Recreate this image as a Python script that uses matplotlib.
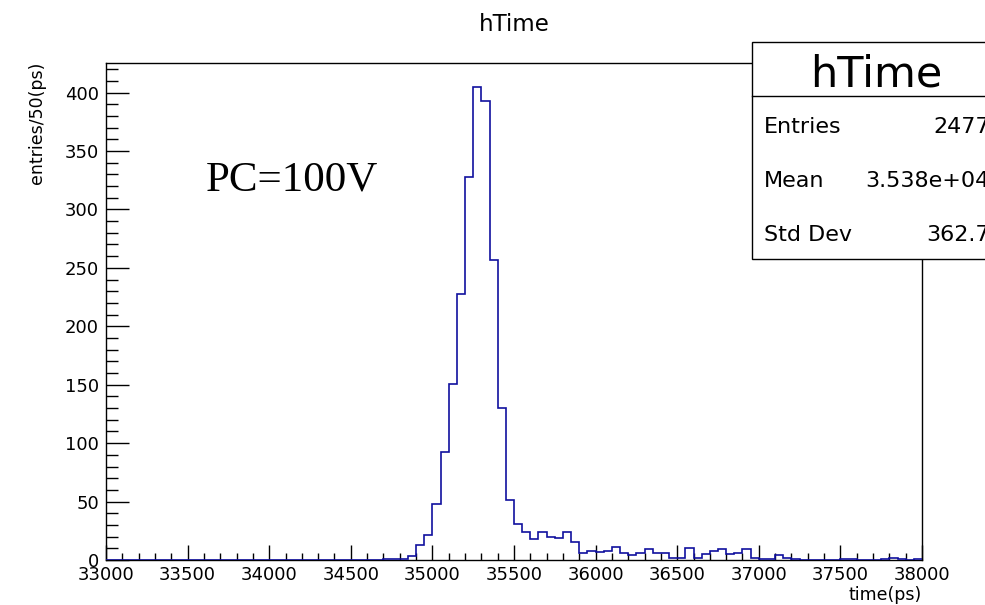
import numpy as np
import matplotlib
matplotlib.use("Agg")
import matplotlib.pyplot as plt
from matplotlib.patches import Rectangle
from matplotlib.lines import Line2D
from matplotlib.ticker import MultipleLocator

# ---- data ----
bin_low = 33000
bin_high = 38000
bin_width = 50
counts = [0] * 34 + [
    1, 1, 1, 3, 13, 21,            # 34700 - 34950
    48, 92, 151, 228, 328, 405,    # 35000 - 35250
    393, 257, 130, 51,             # 35300 - 35450
    31, 24, 18, 24, 20, 19, 24, 15, 6, 8,   # 35500 - 35950
    7, 8, 11, 6, 4, 6, 9, 6, 6, 2,          # 36000 - 36450
    2, 10, 2, 5, 8, 9, 5, 6, 9, 2,          # 36500 - 36950
    1, 1, 4, 2, 1, 0, 0, 0, 0, 0,           # 37000 - 37450
    1, 1, 0, 0, 0, 1, 2, 1, 0, 1,           # 37500 - 37950
]
title = "hTime"
x_label = "time(ps)"
y_label = "entries/50(ps)"
annotation = "PC=100V"
stats_names = ["Entries", "Mean", "Std Dev"]
stats_values = ["2477", "3.538e+04", "362.7"]

edges = np.arange(bin_low, bin_high + bin_width, bin_width)

W, H = 985, 605
plt.rcParams['font.family'] = ['DejaVu Sans']
fig = plt.figure(figsize=(W / 100, H / 100), dpi=100)

L, R, T, B = 106, 922, 63, 560
ax = fig.add_axes([L / W, 1 - B / H, (R - L) / W, (B - T) / H])

line_color = "#10109e"
ax.stairs(counts, edges, color=line_color, linewidth=1.2, baseline=None, zorder=3)

ax.set_xlim(bin_low, bin_high)
ax.set_ylim(0, max(counts) * 1.05)

ax.xaxis.set_major_locator(MultipleLocator(500))
ax.xaxis.set_minor_locator(MultipleLocator(100))
ax.yaxis.set_major_locator(MultipleLocator(50))
ax.yaxis.set_minor_locator(MultipleLocator(10))

ax.tick_params(which='both', direction='in', top=False, right=False,
               labelsize=13, width=1.0, color='black')
ax.tick_params(axis='x', which='major', length=10.8, pad=4)
ax.tick_params(axis='x', which='minor', length=5.4)
ax.tick_params(axis='y', which='major', length=16.5, pad=5)
ax.tick_params(axis='y', which='minor', length=8.4)

for s in ax.spines.values():
    s.set_linewidth(1.0)
    s.set_color('black')

# axis titles (ROOT style: at the axis end)
ax.text(1.0, (B - 586) / (B - T), x_label, transform=ax.transAxes,
        ha='right', va='top', fontsize=12.5)
ax.text((37 - L) / (R - L), (B - 62) / (B - T), y_label, transform=ax.transAxes,
        ha='center', va='top', rotation=90, fontsize=12.5)

# plot title
fig.text((L + R) / 2 / W, 1 - 31 / H, title, ha='center', va='baseline', fontsize=16.5)

# annotation
fig.text(206 / W, 1 - 190.5 / H, annotation, ha='left', va='baseline',
         fontsize=31, family=['Liberation Serif', 'DejaVu Serif'])

# stats box
bx0, by0, by1 = 752, 41.7, 259
rect = Rectangle((bx0 / W, 1 - by1 / H), (1010 - bx0) / W, (by1 - by0) / H,
                 transform=fig.transFigure, facecolor='white', edgecolor='black',
                 linewidth=1.0, zorder=5, clip_on=False)
fig.add_artist(rect)
sep = Line2D([bx0 / W, 1.05], [1 - 95.7 / H] * 2, transform=fig.transFigure,
             color='black', linewidth=1.0, zorder=6)
fig.add_artist(sep)
fig.text(876 / W, 1 - 86.7 / H, title, ha='center', va='baseline', fontsize=31, zorder=7)
row_base = [132.7, 186.7, 241.0]
for name, val, yb in zip(stats_names, stats_values, row_base):
    fig.text(764 / W, 1 - yb / H, name, ha='left', va='baseline', fontsize=16, zorder=7)
    fig.text(990 / W, 1 - yb / H, val, ha='right', va='baseline', fontsize=16, zorder=7)

fig.savefig("out.png", dpi=100)
